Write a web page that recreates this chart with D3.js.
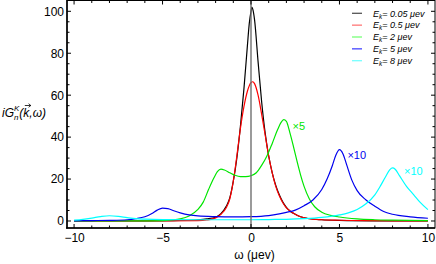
<!DOCTYPE html>
<html><head><meta charset="utf-8">
<script src="https://cdn.jsdelivr.net/npm/d3@7"></script>
<style>body{margin:0;background:#fff}svg{display:block}text{font-family:"Liberation Sans",Arial,sans-serif}</style>
</head><body>
<svg id="c" width="436" height="264"></svg>
<script>
// ---- data ----
const blackW = [-10,-6,-4,-3,-2.5,-2,-1.7,-1.4,-1.2,-1.0,-0.8,-0.6,-0.4,-0.2,-0.1,0,0.05,0.1,0.2,0.4,0.6,0.8,1.0,1.2,1.4,1.6,1.8,2.0,2.2,2.5,2.8,3.2,4,5,7,10];
const blackV = [0,0.1,0.3,0.6,1.0,1.8,3.5,7,11,19,30,45,63,84,94,100,102,101,96,76,57,42,31,23,17,12.5,9,6.5,4.8,3.2,2.0,1.2,0.6,0.3,0.1,0.05];
const redW = [-10,-5,-3,-2.5,-2,-1.7,-1.4,-1.2,-1.0,-0.8,-0.6,-0.4,-0.2,0,0.1,0.2,0.4,0.6,0.8,1.0,1.2,1.4,1.6,1.8,2.0,2.2,2.5,2.8,3.2,4,5,7,10];
const redV = [0,0.05,0.2,0.5,1.5,3.2,6.3,10.5,19,31,44,54.5,62,66,66.4,65.5,60,51,41,31,23,16.5,12,8.7,6.3,4.8,3.2,2.0,1.2,0.6,0.35,0.15,0.05];
const greenW = [-10,-8,-6,-5,-4.5,-4,-3.5,-3.0,-2.7,-2.4,-2.1,-1.9,-1.7,-1.5,-1.2,-0.9,-0.6,-0.3,0,0.3,0.6,0.9,1.2,1.5,1.7,1.85,2.0,2.2,2.4,2.6,2.8,3.0,3.3,3.6,4.0,4.5,5,6,7,8,10];
const greenV = [0.02,0.05,0.1,0.2,0.5,1.0,2.4,5.5,9,15,20.5,23.5,24.7,24.3,23,21.8,21.2,21.2,21.6,23,26.5,31,37,43.5,47,48.3,47.5,42,35.5,28.5,22,16.5,10.5,6.8,4.2,2.7,1.9,1.0,0.6,0.4,0.15];
const blueW = [-10,-9,-8,-7,-6.5,-6,-5.6,-5.3,-5.0,-4.7,-4.4,-4,-3.5,-3,-2,-1,0,1,1.6,2.0,2.5,3.0,3.5,4.0,4.3,4.6,4.8,5.0,5.2,5.4,5.7,6.0,6.5,7.0,7.5,8,9,10];
const blueV = [0.1,0.2,0.3,0.6,1.1,2.0,3.6,5.2,6.1,5.9,5.0,3.9,2.9,2.4,2.1,2.0,2.1,2.6,3.4,4.1,5.2,7.3,10,15,20,26.5,31.5,34,32,27,19.5,14.5,10,7,4.5,3.2,2.0,1.3];
const cyanW = [-10,-9.5,-9,-8.5,-8,-7.5,-7,-6.5,-6,-5,-3,-1,0,1,2,3,4,5,5.5,6,6.5,7.0,7.3,7.6,7.85,8.0,8.15,8.4,8.8,9.2,9.55,10];
const cyanV = [0.4,0.8,1.4,2.1,2.5,2.2,1.6,1.1,0.9,0.7,0.6,0.6,0.6,0.7,0.8,1.1,1.7,2.9,3.9,5.5,8.2,12.5,16.5,21,24.5,25.3,24.7,21.5,16.4,12.5,9.0,5.4];
const seriesEk = ["0.05","0.5","2","5","8"];
const xTicks = [-10,-5,0,5,10];
const yTicks = [0,20,40,60,80,100];
const scaleLabels = [{s:2,t:"\u00d75",w:2.35,v:43.5},{s:3,t:"\u00d710",w:5.45,v:29.5},{s:4,t:"\u00d710",w:8.65,v:21.8}];

const colors = ["#000000","#ff0000","#00e600","#0000ee","#00ffff"];
const legendColors = ["#555555","#ff7777","#77ff77","#4444ff","#77ffff"];
const series = [[blackW,blackV],[redW,redV],[greenW,greenV],[blueW,blueV],[cyanW,cyanV]];

const svg = d3.select("#c");
const x = d3.scaleLinear().domain([-10.4,10.4]).range([67,435]);
const y = d3.scaleLinear().domain([-3.34,105.15]).range([228,0.5]);

const line = d3.line().x(d=>x(d[0])).y(d=>y(d[1])).curve(d3.curveMonotoneX);
svg.append("clipPath").attr("id","cp").append("rect")
  .attr("x",67).attr("y",0.5).attr("width",368).attr("height",227.5);
const g = svg.append("g").attr("clip-path","url(#cp)");
series.forEach((s,i)=>{
  const pts = s[0].map((w,j)=>[w,s[1][j]]);
  g.append("path").attr("d",line(pts)).attr("fill","none")
    .attr("stroke",colors[i]).attr("stroke-width",1.2);
});
// vertical gray line at ω=0
g.append("line").attr("x1",x(0)).attr("x2",x(0)).attr("y1",0).attr("y2",228)
  .attr("stroke","#707070").attr("stroke-width",1.4);

// axes
const axB = d3.axisBottom(x).tickValues(xTicks).tickSize(0).tickFormat(d3.format("d"));
const axisG = svg.append("g").attr("transform","translate(0,228)").call(axB);
axisG.select(".domain").remove();
axisG.selectAll("text").attr("dy",null).attr("y",14).style("font-size","12px").attr("fill","#000");
const axL = d3.axisLeft(y).tickValues(yTicks).tickSize(0).tickFormat(d3.format("d"));
const axisL = svg.append("g").attr("transform","translate(67,0)").call(axL);
axisL.select(".domain").remove();
axisL.selectAll("text").attr("x",-3).style("font-size","12px").attr("fill","#000");

const minorX = d3.range(-10,10.01,1), minorY = d3.range(0,105,5);
const tk = svg.append("g").attr("stroke","#000").attr("stroke-width",1);
minorX.forEach(v=>{
  const L = (v%5===0)?4:2.5;
  tk.append("line").attr("x1",x(v)).attr("x2",x(v)).attr("y1",228).attr("y2",228-L);
  tk.append("line").attr("x1",x(v)).attr("x2",x(v)).attr("y1",0.5).attr("y2",0.5+L);
});
minorY.forEach(v=>{
  const L = (v%20===0)?4:2.5;
  tk.append("line").attr("y1",y(v)).attr("y2",y(v)).attr("x1",67).attr("x2",67+L);
  tk.append("line").attr("y1",y(v)).attr("y2",y(v)).attr("x1",435).attr("x2",435-L);
});
svg.append("rect").attr("x",67).attr("y",0.5).attr("width",368).attr("height",227.5)
  .attr("fill","none").attr("stroke","#000").attr("stroke-width",1);
svg.append("line").attr("x1",67).attr("x2",67).attr("y1",0).attr("y2",228.5).attr("stroke","#000").attr("stroke-width",1.5);
svg.append("line").attr("x1",66).attr("x2",435).attr("y1",228).attr("y2",228).attr("stroke","#000").attr("stroke-width",1.5);

// scale labels
scaleLabels.forEach(l=>{
  svg.append("text").attr("x",x(l.w)).attr("y",y(l.v)).attr("fill",colors[l.s])
    .style("font-size","11px").text(l.t);
});

// legend
const lg = svg.append("g");
seriesEk.forEach((e,i)=>{
  const yy = 13.3 + i*11.85;
  lg.append("line").attr("x1",352).attr("x2",362).attr("y1",yy).attr("y2",yy)
    .attr("stroke",legendColors[i]).attr("stroke-width",1.3);
  const t = lg.append("text").attr("x",373).attr("y",yy+3.2).style("font-size","9px").style("font-style","italic");
  t.append("tspan").text("E");
  t.append("tspan").attr("dy",2).style("font-size","6.5px").text("k");
  t.append("tspan").attr("dy",-2).text("= "+e+" \u03bcev");
});

// axis titles
svg.append("text").attr("x",254.5).attr("y",259).attr("text-anchor","middle")
  .style("font-size","12px").text("\u03c9 (\u03bcev)");
const yl = svg.append("text").attr("x",2).attr("y",117).style("font-size","12px").style("font-style","italic");
yl.append("tspan").text("iG");
yl.append("tspan").attr("dy",3).style("font-size","8px").text("n");
yl.append("tspan").attr("dx",-4.5).attr("dy",-9).style("font-size","8px").text("K");
yl.append("tspan").attr("dy",6).text("(");
const kSpan = yl.append("tspan").text("k");
yl.append("tspan").text(",\u03c9)");
// arrow over k drawn as a path
const kb = kSpan.node().getBBox ? null : null;
const full = yl.node();
const txt = full.textContent;
const kIdx = txt.indexOf("(k") + 1;
const p0 = full.getStartPositionOfChar(kIdx);
const p1 = full.getEndPositionOfChar(kIdx);
const ax0 = p0.x + 1.5, ax1 = p1.x + 1.5, ay = 105.5;
svg.append("path").attr("d",`M${ax0},${ay}H${ax1}M${ax1-2.2},${ay-1.8}L${ax1},${ay}L${ax1-2.2},${ay+1.8}`)
  .attr("fill","none").attr("stroke","#000").attr("stroke-width",0.8);
</script>
</body></html>
